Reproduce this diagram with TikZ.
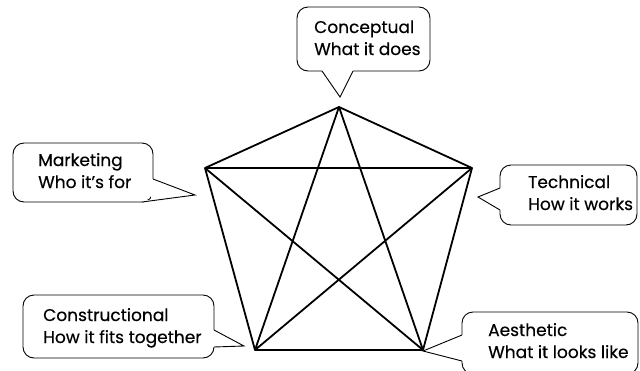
\documentclass[tikz,border=0pt]{standalone}
\usepackage{fontspec}
\setmainfont{Poppins}[FakeBold=0.4]
\begin{document}
\begin{tikzpicture}[x=1pt,y=-1pt,
  edge/.style={line width=1.8pt,line join=round},
  box/.style={line width=0.9pt,rounded corners=11pt},
  tail/.style={line width=0.9pt,line join=miter},
  lbl/.style={anchor=base west,inner sep=0pt,align=left,font=\fontsize{17}{22}\selectfont}]
\useasboundingbox[fill=white] (0,0) rectangle (640,370);
% pentagon vertices
\coordinate (T) at (339,107);
\coordinate (L) at (205,168);
\coordinate (R) at (472,168);
\coordinate (BL) at (255,350);
\coordinate (BR) at (423,350);
% complete graph
\draw[edge] (T) -- (L) -- (BL) -- (BR) -- (R) -- cycle;
\draw[edge] (T) -- (BL) (T) -- (BR) (L) -- (R) (L) -- (BR) (R) -- (BL);
% tips
\coordinate (tc) at (340,97);
\coordinate (tm) at (195,195);
\coordinate (tt) at (478,197);
\coordinate (tk) at (244,346);
\coordinate (ta) at (423,351);
% Conceptual callout
\draw[box,fill=white] (297,7) rectangle (430,71);
\fill[white] (322,69) -- (322,71) -- (tc) -- (353,71) -- (353,69) -- cycle;
\draw[tail] (322,71) -- (tc) -- (353,71);
% Marketing callout
\draw[box,fill=white] (13,143) rectangle (153,202);
\fill[white] (151,179) -- (153,179) -- (tm) -- (142,202) -- (142,200) -- (151,200) -- cycle;
\draw[tail] (153,179) -- (tm) -- (142,202);
% Technical callout
\draw[box,fill=white] (500,165) rectangle (637,225);
\fill[white] (502,188) -- (500,188) -- (tt) -- (500,210) -- (502,210) -- cycle;
\draw[tail] (500,188) -- (tt) -- (500,210);
% Constructional callout
\draw[box,fill=white] (23,295) rectangle (214,358);
\fill[white] (212,330) -- (214,330) -- (tk) -- (214,347) -- (212,347) -- cycle;
\draw[tail] (214,330) -- (tk) -- (214,347);
% Aesthetic callout
\draw[box,fill=white] (462,312) rectangle (638,374);
\fill[white] (464,335) -- (462,335) -- (ta) -- (462,361) -- (464,361) -- cycle;
\draw[tail] (462,335) -- (ta) -- (462,361);
% labels
\node[lbl] (conceptual) at (314,55) {Conceptual\\What it does};
\node[lbl] (marketing) at (38,188) {Marketing\\Who it’s for};
\node[lbl] (technical) at (528,210) {Technical\\How it works};
\node[lbl] (constructional) at (43,343) {Constructional\\How it fits together};
\node[lbl] (aesthetic) at (488,358) {Aesthetic\\What it looks like};
\end{tikzpicture}
\end{document}
